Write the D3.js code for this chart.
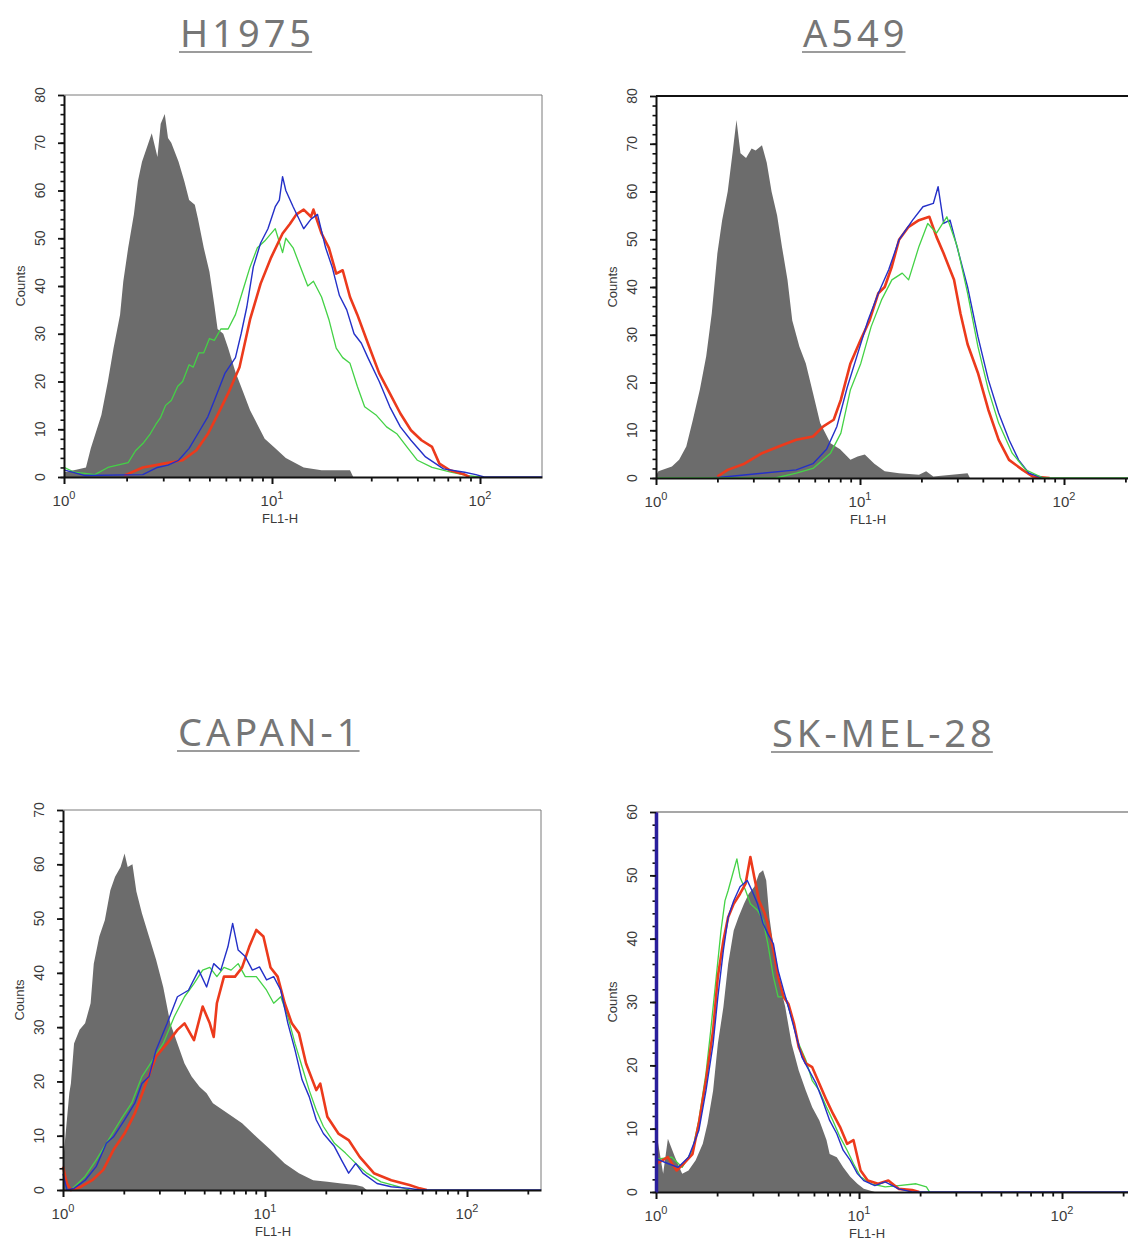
<!DOCTYPE html>
<html>
<head>
<meta charset="utf-8">
<title>FL1-H histograms</title>
<script src="https://d3js.org/d3.v7.min.js"></script>
<style>
  body { margin: 0; background: #fff; }
  svg text { font-family: "Liberation Sans", Arial, sans-serif; }
  .title { font-family: "Noto Sans", sans-serif; font-size: 38px; fill: #767676; letter-spacing: 4px; }
</style>
</head>
<body>
<svg id="chart" width="1128" height="1243"></svg>
<script>
// histogram points are [channel, counts]; 256 channels per decade, FL1-H = 10^(channel/256)
const titles = ["H1975", "A549", "CAPAN-1", "SK-MEL-28"];
const yMaxes = [80, 80, 70, 60];
const decadeLabels = [1, 10, 100];

const h1975Control = [[0,1],[15,1.5],[27,2],[33,6],[46,13],[54,20],[61,27],[69,34],[73,41],[79,48],[86,55],[91,62],[96,66],[102,69],[108,72],[115,67],[119,74],[124,76],[128,71],[132,70],[141,66],[148,62],[154,58],[161,57],[165,54],[172,48],[179,43],[185,36],[189,31],[196,30],[202,27],[211,22],[220,18],[229,14],[238,11],[247,8],[260,6],[273,4],[295,2],[317,1.4],[352,1.4],[356,0]];
const h1975Green = [[0,2],[13,1],[38,0.5],[54,2],[79,3],[88,5.5],[97,7],[106,9],[113,11],[119,12.5],[125,15],[132,16],[140,19],[146,20],[154,23.5],[159,23],[166,26],[172,26],[179,29],[185,28.6],[193,31],[202,31],[211,34],[220,39],[229,44],[238,48],[248,49.6],[260,52],[269,47],[273,50],[282,48],[291,44],[300,40],[307,41],[317,37.7],[326,33],[335,27],[343,25],[352,23.8],[361,19],[370,14.7],[384,13],[397,10.5],[410,9],[422,6.3],[435,3.5],[453,2],[476,1],[497,0.3],[512,0]];
const h1975Blue = [[0,1.5],[26,0.3],[97,0.5],[115,2],[128,2.5],[141,3.5],[154,6],[168,10],[177,12.6],[185,16],[198,21.7],[211,25],[218,30],[225,35.6],[233,44],[242,49],[251,52],[260,56.6],[265,58],[269,62.9],[273,60],[282,56.6],[295,52],[304,54],[312,55],[322,48],[330,44],[339,38],[348,35],[357,30],[366,28],[374,25],[388,20],[401,14.7],[414,10.5],[427,7.7],[445,4.2],[467,1.7],[493,1],[507,0.5],[517,0],[640,0]];
const h1975Red = [[74,0.3],[97,2],[123,2.8],[146,3.5],[163,5.6],[177,9],[189,13],[202,17.5],[216,23],[229,33],[242,40.5],[255,46],[269,51],[278,53],[286,55],[295,56],[304,54.5],[307,56],[317,51],[326,48],[335,42.6],[343,43.3],[352,37.7],[361,34],[374,28],[388,21.7],[401,17.5],[414,13.3],[427,9.8],[440,7.7],[453,6.3],[462,2.8],[475,1.4],[493,0.5],[499,0]];

const a549Control = [[0,0.5],[3,1.4],[20,2.4],[29,3.8],[38,6.6],[46,12],[55,18.5],[63,25.5],[70,34.5],[77,47],[83,54],[90,60],[96,68],[101,75],[106,68],[113,67],[120,69],[125,68.6],[133,69.7],[139,66],[145,60],[152,55],[158,48.5],[165,41.5],[171,33],[180,27.5],[188,24],[197,17.8],[206,11.5],[219,7.3],[231,6],[244,3.8],[253,4.5],[262,4.9],[274,3],[287,1.4],[305,1],[330,0.7],[339,1.4],[348,0.3],[391,1],[394,0]];
const a549Red = [[77,0.3],[90,1.7],[111,3],[133,5.2],[154,6.6],[176,8],[197,8.7],[210,10.8],[223,12.2],[232,16.4],[244,24],[257,29],[268,33],[279,38.7],[287,40],[296,44.3],[305,49.9],[317,52.6],[330,54],[343,54.7],[352,50.5],[361,47],[374,41.5],[382,34.5],[391,28],[404,22],[417,14.3],[430,8],[443,3.8],[460,1.7],[473,0.3],[494,0]];
const a549Blue = [[72,0],[133,1],[176,1.7],[197,3],[214,6],[227,10.8],[240,19],[253,26],[266,33],[279,38.7],[292,43.6],[305,49.9],[322,54],[335,56.8],[348,57.5],[354,61],[361,53.3],[369,54],[380,47],[391,40],[404,29.6],[417,20.6],[430,13.6],[443,8],[455,3.8],[468,1],[486,0]];
const a549Green = [[0,0],[150,0],[176,1],[197,2],[219,5.2],[232,9.4],[244,18.5],[257,24],[270,31.7],[283,37.3],[296,41.5],[309,42.9],[317,41.5],[330,48.5],[341,53.3],[352,51.3],[365,54.7],[378,48.5],[391,38.7],[404,27.5],[417,18.5],[430,11.5],[447,5.2],[464,1.7],[486,0],[640,0]];

const capan1Control = [[0,5],[8,17.8],[10,19.6],[14,27],[21,29.5],[28,30.7],[35,34.4],[39,41.7],[46,46.7],[53,49.7],[60,55.2],[66,57.7],[73,59.5],[78,62],[82,59.5],[88,60],[93,55],[100,51],[109,46.7],[118,42.4],[127,37.4],[136,30.7],[145,27],[154,23.3],[163,20.9],[173,19],[182,17.8],[190,16],[209,14.1],[227,12.3],[245,9.8],[263,7.4],[281,4.9],[299,3.1],[317,1.8],[335,1.5],[353,1.2],[371,0.9],[380,0.6],[385,0]];
const capan1Green = [[10,0],[28,2.5],[42,5.5],[55,8.6],[73,12.9],[87,16],[100,20.9],[114,24],[127,27],[141,31.9],[154,35.6],[166,38],[177,40.5],[186,41],[195,39.3],[204,41],[213,40.5],[222,41.7],[231,39.3],[245,39.3],[258,36.8],[267,34.4],[276,35.6],[285,31.9],[294,27],[303,22.7],[312,18.4],[321,14.7],[330,11.7],[344,8.6],[358,6.8],[371,4.9],[385,3.1],[403,1.5],[425,0.6],[439,0]];
const capan1Red = [[0,4.3],[5,1.2],[10,0],[23,0.6],[37,1.8],[51,3.7],[64,7.4],[78,10.4],[91,14.1],[105,19.6],[118,24.6],[132,27],[145,29.5],[154,30.7],[166,27.6],[177,33.8],[186,30.7],[191,28.2],[195,34.4],[204,39.3],[218,39.3],[227,41],[236,44.8],[245,47.9],[254,46.7],[263,41],[272,39.3],[281,34.4],[290,30.7],[299,28.9],[308,23.3],[321,18.4],[326,19.6],[335,13.5],[349,10.4],[362,9.2],[376,6.1],[394,3.1],[416,1.8],[439,0.9],[452,0.3],[461,0]];
const capan1Blue = [[0,3],[5,0],[14,0.3],[28,1.8],[42,4.3],[55,8.6],[64,9.8],[78,12.9],[91,16],[100,19.6],[109,20.9],[118,25.8],[132,30.7],[145,35.6],[159,36.8],[172,40.5],[182,37.4],[191,41.7],[200,40.5],[209,44.8],[215,49.1],[222,44.2],[231,43],[240,40.5],[249,41.1],[258,38.7],[267,39.3],[276,36.8],[285,30.7],[294,25.8],[303,20.3],[312,17.2],[321,12.9],[330,10.4],[344,8],[353,5.5],[362,3.1],[371,4.9],[380,3.1],[398,1.2],[416,0.6],[439,0.3],[452,0],[640,0]];

const skmel28Control = [[0,6],[2,8.2],[9,2.9],[15,8.4],[24,5.5],[33,2.9],[41,3.4],[50,5],[59,7.6],[65,10.8],[72,16],[78,23.4],[85,29.2],[91,36],[98,41.3],[104,43.4],[111,45.5],[117,47.1],[124,48.2],[130,50.3],[135,50.8],[139,49.2],[143,43.4],[150,37.1],[156,32.9],[163,29.2],[171,23.4],[180,19.2],[189,16],[197,13.4],[206,11.3],[215,8.2],[219,6],[228,5.5],[236,3.9],[245,2.4],[254,1.3],[262,0.5],[276,0]];
const skmel28Green = [[1,5.2],[20,5.5],[33,3.9],[46,6.6],[54,11.3],[63,18.7],[69,25.5],[76,34],[82,41.3],[87,46],[91,47.6],[98,50.8],[102,52.6],[106,49.7],[113,47.6],[119,45.5],[128,44.5],[135,42.9],[141,39.2],[148,34],[154,30.8],[163,30.8],[171,27.6],[180,23.4],[189,20.8],[197,17.6],[206,16],[215,13.4],[223,11.3],[232,8.7],[241,6.6],[249,4.5],[258,2.4],[271,1.3],[289,0.8],[306,1],[328,1.3],[341,0.8],[345,0]];
const skmel28Red = [[0,80],[1,4.5],[15,5.5],[26,3.4],[35,4.5],[46,6],[54,10.8],[63,17.6],[72,25.5],[78,34],[85,39.7],[91,43.4],[98,45.5],[106,47.1],[113,48.7],[119,52.9],[124,49.7],[130,46],[137,44],[141,42.4],[148,38.2],[154,34],[161,30.8],[167,29.7],[174,26.6],[180,22.9],[189,20.3],[197,19.7],[206,17.1],[215,14.5],[223,12.4],[232,10.3],[241,7.6],[249,8.2],[258,3.4],[267,1.8],[280,1.3],[293,1.8],[306,0.5],[323,0.3],[332,0]];
const skmel28Blue = [[0,80],[1,5.2],[15,4.5],[28,3.9],[41,5.5],[54,9.7],[63,16],[72,23.4],[78,30.8],[85,38.2],[91,43.4],[98,46],[106,48.2],[115,49.2],[121,47.6],[128,45.5],[135,42.4],[141,40.8],[148,39.2],[154,35],[161,31.8],[167,29.2],[176,25],[184,21.3],[193,19.2],[202,17.1],[210,14.5],[219,11.3],[228,9.2],[236,6.6],[245,5],[254,2.9],[262,1.8],[276,1],[289,1.6],[306,0.5],[323,0],[640,0]];

const controls = [h1975Control, a549Control, capan1Control, skmel28Control];
const stained = [
  {green: h1975Green, red: h1975Red, blue: h1975Blue},
  {red: a549Red, blue: a549Blue, green: a549Green},
  {green: capan1Green, red: capan1Red, blue: capan1Blue},
  {green: skmel28Green, red: skmel28Red, blue: skmel28Blue}
];

// drawing setup
const colors = {green: "#44d246", red: "#ec3a1c", blue: "#2430c8"};
const widths = {green: 1.3, red: 2.6, blue: 1.4};
const layout = [
  {left: 64, top: 95, bottom: 477, decade: 208, titleX: 180, titleY: 47, frame: "#7a7a7a", frameW: 1, yAxisColor: "#111", yAxisW: 2},
  {left: 656, top: 96, bottom: 478, decade: 204, titleX: 803, titleY: 47, frame: "#111", frameW: 2.2, yAxisColor: "#111", yAxisW: 2},
  {left: 63, top: 810, bottom: 1190, decade: 202, titleX: 178, titleY: 746, frame: "#7a7a7a", frameW: 1, yAxisColor: "#111", yAxisW: 2},
  {left: 656, top: 812, bottom: 1192, decade: 203, titleX: 772, titleY: 747, frame: "#8a8a8a", frameW: 1.5, yAxisColor: "#2a1f9c", yAxisW: 3.5}
];
const plotW = 478;

const svg = d3.select("#chart");

layout.forEach((L, i) => {
  const H = L.bottom - L.top;
  const g = svg.append("g").attr("transform", `translate(${L.left},${L.top})`);
  const x = d3.scaleLog().domain([1, Math.pow(10, plotW / L.decade)]).range([0, plotW]);
  const y = d3.scaleLinear().domain([0, yMaxes[i]]).range([H, 0]);
  const px = ch => x(Math.pow(10, ch / 256));

  // title
  const t = svg.append("text").attr("class", "title")
    .attr("x", L.titleX).attr("y", L.titleY).text(titles[i]);
  const tw = t.node().getComputedTextLength() - 4;
  svg.append("line")
    .attr("x1", L.titleX - 1).attr("x2", L.titleX + tw + 1)
    .attr("y1", L.titleY + 5).attr("y2", L.titleY + 5)
    .attr("stroke", "#9c9c9c").attr("stroke-width", 2);

  // frame top / right
  g.append("path")
    .attr("d", `M0,0H${plotW}V${H}`)
    .attr("fill", "none").attr("stroke", L.frame).attr("stroke-width", L.frameW);

  const clipId = "clip" + i;
  g.append("clipPath").attr("id", clipId)
    .append("rect").attr("x", -2).attr("y", 0).attr("width", plotW + 2).attr("height", H + 2);
  const plot = g.append("g").attr("clip-path", `url(#${clipId})`);

  const area = d3.area().x(d => px(d[0])).y0(y(0)).y1(d => y(d[1]));
  plot.append("path").datum(controls[i])
    .attr("d", area).attr("fill", "#6c6c6c");

  // axes under the outlines
  const minors = [2,3,4,5,6,7,8,9,20,30,40,50,60,70,80,90,200,300]
    .filter(v => v <= x.domain()[1]);
  g.append("g").attr("transform", `translate(0,${H})`)
    .call(d3.axisBottom(x).tickValues(minors).tickSize(4.5).tickFormat(""))
    .call(a => a.select(".domain").remove())
    .selectAll("line").attr("stroke", "#111").attr("stroke-width", 1.8);
  g.append("g").attr("transform", `translate(0,${H})`)
    .call(d3.axisBottom(x).tickValues(decadeLabels).tickSize(7).tickSizeOuter(0).tickFormat(""))
    .call(a => a.select(".domain").attr("stroke", "#111").attr("stroke-width", 2))
    .selectAll("line").attr("stroke", "#111").attr("stroke-width", 2);
  g.append("g")
    .call(d3.axisLeft(y).tickValues(d3.range(0, yMaxes[i], 2)).tickSize(3.5).tickFormat(""))
    .call(a => a.select(".domain").remove())
    .selectAll("line").attr("stroke", "#111").attr("stroke-width", 1.6);
  g.append("g")
    .call(d3.axisLeft(y).tickValues(d3.range(0, yMaxes[i] + 1, 10)).tickSize(6).tickSizeOuter(0).tickFormat(""))
    .call(a => a.select(".domain").attr("stroke", L.yAxisColor).attr("stroke-width", L.yAxisW))
    .selectAll("line").attr("stroke", "#111").attr("stroke-width", 1.8);

  const line = d3.line().x(d => px(d[0])).y(d => y(d[1]));
  Object.keys(stained[i]).forEach(k => {
    plot.append("path").datum(stained[i][k])
      .attr("d", line).attr("fill", "none")
      .attr("stroke", colors[k]).attr("stroke-width", widths[k])
      .attr("stroke-linejoin", "round");
  });

  // tick labels
  decadeLabels.filter(v => v <= x.domain()[1]).forEach((v, k) => {
    const lab = g.append("text")
      .attr("x", x(v)).attr("y", H + 29)
      .attr("text-anchor", "middle").attr("fill", "#3a3a3a")
      .style("font-size", "15px");
    lab.append("tspan").text("10");
    lab.append("tspan").attr("dy", -7).style("font-size", "11px").text(k);
  });
  g.append("text")
    .attr("x", x(10) + 8).attr("y", H + 46)
    .attr("text-anchor", "middle").attr("fill", "#3a3a3a")
    .style("font-size", "13px").text("FL1-H");

  d3.range(0, yMaxes[i] + 1, 10).forEach(v => {
    g.append("text")
      .attr("transform", `translate(-24,${y(v)}) rotate(-90)`)
      .attr("text-anchor", "middle").attr("dy", "0.35em")
      .attr("fill", "#3a3a3a").style("font-size", "14px").text(v);
  });
  g.append("text")
    .attr("transform", `translate(-44,${H / 2}) rotate(-90)`)
    .attr("text-anchor", "middle").attr("dy", "0.35em")
    .attr("fill", "#3a3a3a").style("font-size", "13px").text("Counts");
});
</script>
</body>
</html>
